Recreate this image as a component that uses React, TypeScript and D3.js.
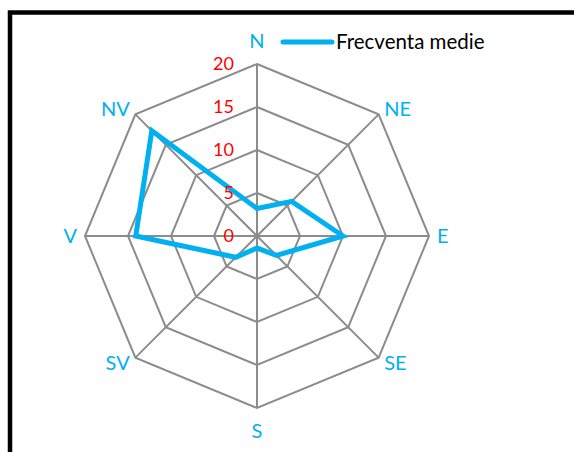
import React from 'react';
import * as d3 from 'd3';

const directions = ['N', 'NE', 'E', 'SE', 'S', 'SV', 'V', 'NV'];
const frecventaMedie = [3.2, 5.7, 10, 3.2, 1.4, 3.5, 14.1, 17.3];
const ticks = [0, 5, 10, 15, 20];
const seriesName = 'Frecventa medie';

const W = 574;
const H = 452;
const cx = 257;
const cy = 236;
const R = 172;
const blue = '#00B0F0';
const font = 'Lato, "Open Sans", sans-serif';

const App = () => {
  const r = d3.scaleLinear().domain([0, 20]).range([0, R]);
  const angle = (i: number) => (i * 2 * Math.PI) / directions.length;

  // same closed radial line for the grid rings and the series
  const radial = d3
    .lineRadial<number>()
    .angle((_, i) => angle(i))
    .radius((d) => r(d))
    .curve(d3.curveLinearClosed);

  return (
    <svg
      width={W}
      height={H}
      style={{ position: 'absolute', left: 0, top: 0, display: 'block', background: '#fff' }}
    >
      <rect x={10} y={12.5} width={W + 20} height={H + 20} fill="#fff" stroke="#000" strokeWidth={4.5} />

      <g transform={`translate(${cx},${cy})`}>
        {ticks.slice(1).map((t) => (
          <path key={t} d={radial(directions.map(() => t)) || ''} fill="none" stroke="#8c8c8c" strokeWidth={2} />
        ))}
        {directions.map((d, i) => (
          <line
            key={d}
            x1={0}
            y1={0}
            x2={r(20) * Math.sin(angle(i))}
            y2={-r(20) * Math.cos(angle(i))}
            stroke="#8c8c8c"
            strokeWidth={2}
          />
        ))}
        <path d={radial(frecventaMedie) || ''} fill="none" stroke={blue} strokeWidth={5} />
        {ticks.map((t) => (
          <text
            key={t}
            x={-23}
            y={-r(t)}
            dy="0.36em"
            textAnchor="end"
            fill="#ff0000"
            fontFamily={font}
            fontSize={18}
          >
            {t}
          </text>
        ))}
        {directions.map((d, i) => {
          const s = Math.sin(angle(i));
          const c = Math.cos(angle(i));
          const top = c > 0.9;
          const bottom = c < -0.9;
          const lr = top || bottom ? R + 16 : R + 8;
          const anchor = s > 0.1 ? 'start' : s < -0.1 ? 'end' : 'middle';
          const dy = top ? '0' : bottom ? '0.72em' : '0.36em';
          return (
            <text
              key={d}
              x={lr * s}
              y={-lr * c}
              dy={dy}
              textAnchor={anchor}
              fill={blue}
              fontFamily={font}
              fontSize={20}
            >
              {d}
            </text>
          );
        })}
      </g>

      <g transform="translate(283,42)">
        <line x1={0} x2={49} y1={0} y2={0} stroke={blue} strokeWidth={5} strokeLinecap="round" />
        <text x={53} y={0} dy="0.36em" fontFamily={font} fontSize={20.5} fill="#000">
          {seriesName}
        </text>
      </g>
    </svg>
  );
};

export default App;
